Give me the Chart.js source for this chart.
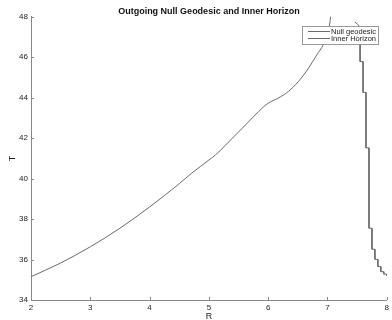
<!DOCTYPE html>
<html>
<head>
<meta charset="utf-8">
<title>Outgoing Null Geodesic and Inner Horizon</title>
<script src="https://cdn.jsdelivr.net/npm/chart.js@4.4.1/dist/chart.umd.min.js"></script>
<style>
  html, body { margin: 0; padding: 0; background: #fff; }
  canvas { display: block; }
</style>
</head>
<body>
<canvas id="geodesicChart" width="392" height="320"></canvas>
<script>
// Null geodesic, values
const geodesicR = [2, 2.5, 3, 3.5, 4, 4.5, 4.71, 5, 5.11, 5.45, 5.62, 5.84, 6.0, 6.17, 6.34, 6.51, 6.68, 6.82, 6.93, 7.0, 7.04, 7.06];
const geodesicT = [35.15, 35.83, 36.63, 37.55, 38.6, 39.75, 40.27, 40.92, 41.17, 42.16, 42.66, 43.32, 43.73, 43.98, 44.31, 44.8, 45.46, 46.12, 46.62, 47.1, 47.7, 48.2];

// Inner horizon, stair steps
const horizonR = [7.46, 7.50, 7.55, 7.55, 7.60, 7.60, 7.65, 7.65, 7.70, 7.70, 7.75, 7.75, 7.80, 7.80, 7.85, 7.85, 7.90, 7.90, 7.95, 7.95, 8.00, 8.00];
const horizonT = [47.74, 47.66, 47.5, 45.79, 45.79, 44.26, 44.26, 41.52, 41.52, 37.55, 37.55, 36.51, 36.51, 36.01, 36.01, 35.65, 35.65, 35.40, 35.40, 35.28, 35.28, 35.19];

// Axis ticks
const rTicks = [2, 3, 4, 5, 6, 7, 8];
const tTicks = [34, 36, 38, 40, 42, 44, 46, 48];

const fontFamily = '"Liberation Sans", Arial, Helvetica, sans-serif';
const lineColor = "#6a6a6a";
const axisColor = "#888";

function toPoints(xs, ys) {
  return xs.map((x, i) => ({ x: x, y: ys[i] }));
}

// MATLAB style ticks pointing into the plot
const inwardTicks = {
  id: "inwardTicks",
  afterDatasetsDraw(chart) {
    const { ctx, chartArea, scales } = chart;
    ctx.save();
    ctx.strokeStyle = axisColor;
    ctx.lineWidth = 1;
    ctx.beginPath();
    scales.x.ticks.forEach(t => {
      const px = Math.round(scales.x.getPixelForValue(t.value)) + 0.5;
      ctx.moveTo(px, chartArea.bottom);
      ctx.lineTo(px, chartArea.bottom - 3);
    });
    scales.y.ticks.forEach(t => {
      const py = Math.round(scales.y.getPixelForValue(t.value)) + 0.5;
      ctx.moveTo(chartArea.left, py);
      ctx.lineTo(chartArea.left + 3, py);
    });
    ctx.stroke();
    ctx.restore();
  }
};

// Boxed legend sitting inside the top right corner
const boxLegend = {
  id: "boxLegend",
  afterDraw(chart) {
    const { ctx, chartArea } = chart;
    const w = 76, h = 18;
    const x = Math.round(chartArea.right) - 9 - w;
    const y = Math.round(chartArea.top) + 9;
    ctx.save();
    ctx.fillStyle = "#fff";
    ctx.fillRect(x, y, w, h);
    ctx.strokeStyle = "#999";
    ctx.lineWidth = 1;
    ctx.strokeRect(x + 0.5, y + 0.5, w, h);
    ctx.font = "7.5px " + fontFamily;
    ctx.textBaseline = "middle";
    ctx.fillStyle = "#222";
    chart.data.datasets.forEach((ds, i) => {
      const ly = y + 5.5 + i * 7;
      ctx.strokeStyle = ds.borderColor;
      ctx.beginPath();
      ctx.moveTo(x + 6, ly);
      ctx.lineTo(x + 28, ly);
      ctx.stroke();
      ctx.fillText(ds.label, x + 29, ly + 0.5);
    });
    ctx.restore();
  }
};

const ctx = document.getElementById("geodesicChart");
new Chart(ctx, {
  type: "line",
  data: {
    datasets: [
      {
        label: "Null geodesic",
        data: toPoints(geodesicR, geodesicT),
        borderColor: lineColor,
        borderWidth: 1,
        pointRadius: 0,
        cubicInterpolationMode: "monotone",
        fill: false
      },
      {
        label: "Inner Horizon",
        data: toPoints(horizonR, horizonT),
        borderColor: lineColor,
        borderWidth: 1,
        pointRadius: 0,
        tension: 0,
        fill: false
      }
    ]
  },
  options: {
    responsive: false,
    animation: false,
    layout: { padding: { left: 0, right: 3, top: 0, bottom: 0 } },
    plugins: {
      legend: { display: false },
      tooltip: { enabled: false },
      title: {
        display: true,
        text: "Outgoing Null Geodesic and Inner Horizon",
        fullSize: false,
        color: "#111",
        font: { family: fontFamily, size: 9, weight: "bold", lineHeight: 1.2 },
        padding: { top: 6, bottom: 0 }
      }
    },
    scales: {
      x: {
        type: "linear",
        min: 2,
        max: 8,
        afterBuildTicks: scale => { scale.ticks = rTicks.map(v => ({ value: v })); },
        afterFit: scale => { scale.height = 20; },
        grid: { display: true, drawOnChartArea: false, drawTicks: false },
        border: { display: true, color: axisColor, width: 1 },
        ticks: { color: "#222", padding: 3, maxRotation: 0, font: { family: fontFamily, size: 8 } },
        title: {
          display: true,
          text: "R",
          color: "#222",
          font: { family: fontFamily, size: 9, lineHeight: 1 },
          padding: { top: 0, bottom: -1 }
        }
      },
      y: {
        type: "linear",
        min: 34,
        max: 48,
        afterBuildTicks: scale => { scale.ticks = tTicks.map(v => ({ value: v })); },
        afterFit: scale => { scale.width = 31; },
        grid: { display: true, drawOnChartArea: false, drawTicks: false },
        border: { display: true, color: axisColor, width: 1 },
        ticks: { color: "#222", padding: 3, font: { family: fontFamily, size: 8 } },
        title: {
          display: true,
          text: "T",
          color: "#222",
          font: { family: fontFamily, size: 9, lineHeight: 1 },
          padding: { top: 8, bottom: 0 }
        }
      }
    }
  },
  plugins: [inwardTicks, boxLegend]
});
</script>
</body>
</html>
